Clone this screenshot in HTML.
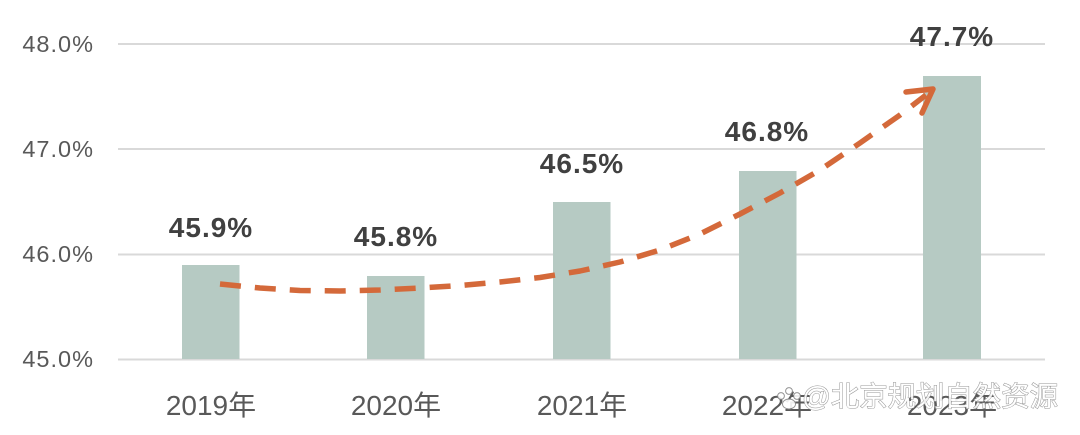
<!DOCTYPE html>
<html>
<head>
<meta charset="utf-8">
<style>
html,body{margin:0;padding:0;background:#fff;}
body{width:1080px;height:435px;overflow:hidden;}
svg{display:block;}
.yl{font-family:"Liberation Sans","Noto Sans CJK SC",sans-serif;font-size:23.5px;fill:#595959;letter-spacing:1px;}
.xl{font-family:"Liberation Sans","Noto Sans CJK SC",sans-serif;font-size:28px;fill:#595959;}
.vl{font-family:"Liberation Sans","Noto Sans CJK SC",sans-serif;font-size:28px;font-weight:bold;fill:#404040;letter-spacing:1px;}
.wm{font-family:"Liberation Sans","Noto Sans CJK SC",sans-serif;font-size:28px;fill:#ffffff;stroke:#8a8a8a;stroke-width:1px;paint-order:stroke;opacity:0.9;}
</style>
</head>
<body>
<svg width="1080" height="435" viewBox="0 0 1080 435" xmlns="http://www.w3.org/2000/svg">
  <!-- gridlines -->
  <g stroke="#d9d9d9" stroke-width="2">
    <line x1="118" y1="44" x2="1045" y2="44"/>
    <line x1="118" y1="149" x2="1045" y2="149"/>
    <line x1="118" y1="254.5" x2="1045" y2="254.5"/>
    <line x1="118" y1="359.5" x2="1045" y2="359.5"/>
  </g>
  <!-- y labels -->
  <g class="yl" text-anchor="end">
    <text x="94" y="52">48.0%</text>
    <text x="94" y="157">47.0%</text>
    <text x="94" y="262">46.0%</text>
    <text x="94" y="367">45.0%</text>
  </g>
  <!-- bars -->
  <g fill="#b6cac3">
    <rect x="182" y="265" width="57.5" height="94"/>
    <rect x="367" y="276" width="57.5" height="83"/>
    <rect x="553" y="202" width="57.5" height="157"/>
    <rect x="739" y="171" width="57.5" height="188"/>
    <rect x="923" y="76" width="58" height="283"/>
  </g>
  <!-- value labels -->
  <g class="vl" text-anchor="middle">
    <text x="211" y="237">45.9%</text>
    <text x="396" y="246">45.8%</text>
    <text x="582" y="173">46.5%</text>
    <text x="767" y="141">46.8%</text>
    <text x="952" y="46">47.7%</text>
  </g>
  <!-- trend arrow -->
  <path d="M220,284 L260,288 L300,290.5 L340,291 L380,290 L420,288 L460,285.5 L500,282 L540,277.5 L580,271 L620,262 L660,250 L700,234 L740,214 L780,193 L820,170 L860,143 L900,115 L926,95"
        fill="none" stroke="#d4693a" stroke-width="5.5" stroke-dasharray="21 14" stroke-linejoin="round"/>
  <path d="M906,92 L933,89 L922,113" fill="none" stroke="#d4693a" stroke-width="5.5" stroke-linecap="round" stroke-linejoin="round"/>
  <!-- x labels -->
  <g class="xl" text-anchor="middle">
    <text x="211" y="415">2019年</text>
    <text x="396" y="415">2020年</text>
    <text x="582" y="415">2021年</text>
    <text x="767" y="415">2022年</text>
    <text x="952" y="415">2023年</text>
  </g>
  <!-- watermark -->
  <g opacity="0.9">
    <circle cx="781" cy="396" r="3.4" fill="#fff" stroke="#888" stroke-width="1"/>
    <circle cx="789" cy="391" r="3.4" fill="#fff" stroke="#888" stroke-width="1"/>
    <circle cx="797" cy="396" r="3.4" fill="#fff" stroke="#888" stroke-width="1"/>
    <ellipse cx="789" cy="404" rx="6.5" ry="5" fill="#fff" stroke="#888" stroke-width="1"/>
  </g>
  <text class="wm" x="802" y="406" textLength="256" lengthAdjust="spacingAndGlyphs">@北京规划自然资源</text>
</svg>
</body>
</html>
